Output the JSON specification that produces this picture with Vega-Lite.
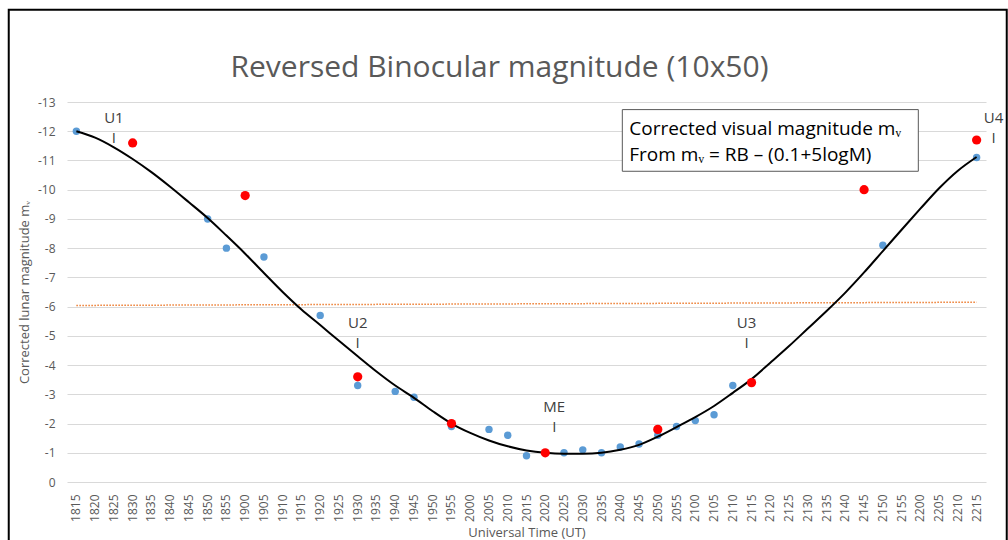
{
  "$schema": "https://vega.github.io/schema/vega-lite/v6.json",
  "autosize": "none",
  "width": 919,
  "height": 380,
  "padding": {"left": 67, "top": 102, "right": 22, "bottom": 58},
  "background": "white",
  "config": {
    "font": "Open Sans",
    "view": {"stroke": null},
    "axisX": {"labelAngle": -90, "labelFontSize": 12, "labelColor": "#595959", "labelPadding": 12, "ticks": false, "domain": false, "grid": false,
      "titleFontSize": 13, "titleFontWeight": "normal", "titleColor": "#595959", "titlePadding": 5},
    "axisY": {"labelFontSize": 12, "labelColor": "#595959", "labelPadding": 12, "ticks": false, "domain": false, "grid": true,
      "gridColor": "#D9D9D9", "gridWidth": 1, "labelOverlap": false,
      "titleFontSize": 13, "titleFontWeight": "normal", "titleColor": "#595959", "titlePadding": 6}
  },
  "title": {"text": "Reversed Binocular magnitude (10x50)", "fontSize": 30, "fontWeight": "normal", "color": "#595959", "font": "Open Sans", "anchor": "middle", "offset": -74, "dx": -27},
  "datasets": {
    "obs": [
      {"t": "1815", "v": -12.0, "s": "A"}, {"t": "1850", "v": -9.0, "s": "A"}, {"t": "1855", "v": -8.0, "s": "A"},
      {"t": "1905", "v": -7.7, "s": "A"}, {"t": "1920", "v": -5.7, "s": "A"}, {"t": "1930", "v": -3.3, "s": "A"},
      {"t": "1940", "v": -3.1, "s": "A"}, {"t": "1945", "v": -2.9, "s": "A"}, {"t": "1955", "v": -1.9, "s": "A"},
      {"t": "2005", "v": -1.8, "s": "A"}, {"t": "2010", "v": -1.6, "s": "A"}, {"t": "2015", "v": -0.9, "s": "A"},
      {"t": "2020", "v": -1.0, "s": "A"}, {"t": "2025", "v": -1.0, "s": "A"}, {"t": "2030", "v": -1.1, "s": "A"},
      {"t": "2035", "v": -1.0, "s": "A"}, {"t": "2040", "v": -1.2, "s": "A"}, {"t": "2045", "v": -1.3, "s": "A"},
      {"t": "2050", "v": -1.6, "s": "A"}, {"t": "2055", "v": -1.9, "s": "A"}, {"t": "2100", "v": -2.1, "s": "A"},
      {"t": "2105", "v": -2.3, "s": "A"}, {"t": "2110", "v": -3.3, "s": "A"}, {"t": "2150", "v": -8.1, "s": "A"},
      {"t": "2215", "v": -11.1, "s": "A"},
      {"t": "1830", "v": -11.6, "s": "B"}, {"t": "1900", "v": -9.8, "s": "B"}, {"t": "1930", "v": -3.6, "s": "B"},
      {"t": "1955", "v": -2.0, "s": "B"}, {"t": "2020", "v": -1.0, "s": "B"}, {"t": "2050", "v": -1.8, "s": "B"},
      {"t": "2115", "v": -3.4, "s": "B"}, {"t": "2145", "v": -10.0, "s": "B"}, {"t": "2215", "v": -11.7, "s": "B"}
    ],
    "fit": [
      {"t": "1815", "v": -12.0}, {"t": "1820", "v": -11.78}, {"t": "1825", "v": -11.45}, {"t": "1830", "v": -11.05},
      {"t": "1835", "v": -10.6}, {"t": "1840", "v": -10.1}, {"t": "1845", "v": -9.57}, {"t": "1850", "v": -9.03},
      {"t": "1855", "v": -8.43}, {"t": "1900", "v": -7.81}, {"t": "1905", "v": -7.15}, {"t": "1910", "v": -6.5},
      {"t": "1915", "v": -5.9}, {"t": "1920", "v": -5.37}, {"t": "1925", "v": -4.83}, {"t": "1930", "v": -4.3},
      {"t": "1935", "v": -3.78}, {"t": "1940", "v": -3.3}, {"t": "1945", "v": -2.88}, {"t": "1950", "v": -2.42},
      {"t": "1955", "v": -2.0}, {"t": "2000", "v": -1.68}, {"t": "2005", "v": -1.42}, {"t": "2010", "v": -1.22},
      {"t": "2015", "v": -1.08}, {"t": "2020", "v": -1.0}, {"t": "2025", "v": -0.97}, {"t": "2030", "v": -0.97},
      {"t": "2035", "v": -1.0}, {"t": "2040", "v": -1.1}, {"t": "2045", "v": -1.27}, {"t": "2050", "v": -1.55},
      {"t": "2055", "v": -1.88}, {"t": "2100", "v": -2.22}, {"t": "2105", "v": -2.6}, {"t": "2110", "v": -3.05},
      {"t": "2115", "v": -3.52}, {"t": "2120", "v": -4.08}, {"t": "2125", "v": -4.65}, {"t": "2130", "v": -5.25},
      {"t": "2135", "v": -5.85}, {"t": "2140", "v": -6.48}, {"t": "2145", "v": -7.17}, {"t": "2150", "v": -7.9},
      {"t": "2155", "v": -8.63}, {"t": "2200", "v": -9.35}, {"t": "2205", "v": -10.05}, {"t": "2210", "v": -10.65},
      {"t": "2215", "v": -11.12}
    ],
    "trend": [{"t": "1815", "v": -6.04}, {"t": "2215", "v": -6.15}],
    "notes": [
      {"t": "1825", "v": -11.78, "label": "U1", "g": "a"},
      {"t": "1930", "v": -4.75, "label": "U2", "g": "a"},
      {"t": "2020", "v": -1.89, "label": "ME", "g": "b"},
      {"t": "2115", "v": -4.75, "label": "U3", "g": "c"},
      {"t": "2215", "v": -11.77, "label": "U4", "g": "d"}
    ]
  },
  "layer": [
    {
      "encoding": {
        "x": {
          "field": "t", "type": "ordinal",
          "scale": {"type": "band", "paddingInner": 0, "paddingOuter": 0,
            "domain": ["1815","1820","1825","1830","1835","1840","1845","1850","1855","1900","1905","1910","1915","1920","1925","1930","1935","1940","1945","1950","1955","2000","2005","2010","2015","2020","2025","2030","2035","2040","2045","2050","2055","2100","2105","2110","2115","2120","2125","2130","2135","2140","2145","2150","2155","2200","2205","2210","2215"]},
          "axis": {"title": "Universal Time (UT)"}
        },
        "y": {
          "field": "v", "type": "quantitative",
          "scale": {"domain": [-13, 0], "reverse": true, "nice": false, "zero": false},
          "axis": {"values": [-13,-12,-11,-10,-9,-8,-7,-6,-5,-4,-3,-2,-1,0], "labelExpr": "'' + datum.value", "title": "Corrected lunar magnitude mᵥ"}
        }
      },
      "layer": [
        {
          "data": {"name": "trend"},
          "mark": {"type": "line", "color": "#ED7D31", "strokeWidth": 1.5, "strokeDash": [1.5, 1.5]}
        },
        {
          "data": {"name": "obs"},
          "transform": [{"filter": "datum.s == 'A'"}],
          "mark": {"type": "circle", "color": "#5B9BD5", "opacity": 1, "size": 55}
        },
        {
          "data": {"name": "fit"},
          "mark": {"type": "line", "color": "#000000", "strokeWidth": 2, "interpolate": "monotone"}
        },
        {
          "data": {"name": "obs"},
          "transform": [{"filter": "datum.s == 'B'"}],
          "mark": {"type": "circle", "color": "#FF0000", "opacity": 1, "size": 85}
        },
        {
          "data": {"name": "notes"},
          "transform": [{"filter": "datum.g == 'a'"}],
          "layer": [
            {"mark": {"type": "text", "fontSize": 15, "color": "#404040", "baseline": "middle", "dy": -20}, "encoding": {"text": {"field": "label"}}},
            {"mark": {"type": "text", "fontSize": 15, "color": "#404040", "baseline": "middle", "text": "I"}}
          ]
        },
        {
          "data": {"name": "notes"},
          "transform": [{"filter": "datum.g == 'b'"}],
          "layer": [
            {"mark": {"type": "text", "fontSize": 15, "color": "#404040", "baseline": "middle", "dy": -20, "dx": 9}, "encoding": {"text": {"field": "label"}}},
            {"mark": {"type": "text", "fontSize": 15, "color": "#404040", "baseline": "middle", "text": "I", "dx": 9}}
          ]
        },
        {
          "data": {"name": "notes"},
          "transform": [{"filter": "datum.g == 'c'"}],
          "layer": [
            {"mark": {"type": "text", "fontSize": 15, "color": "#404040", "baseline": "middle", "dy": -20, "dx": -5}, "encoding": {"text": {"field": "label"}}},
            {"mark": {"type": "text", "fontSize": 15, "color": "#404040", "baseline": "middle", "text": "I", "dx": -5}}
          ]
        },
        {
          "data": {"name": "notes"},
          "transform": [{"filter": "datum.g == 'd'"}],
          "layer": [
            {"mark": {"type": "text", "fontSize": 15, "color": "#404040", "baseline": "middle", "dy": -20, "dx": 17}, "encoding": {"text": {"field": "label"}}},
            {"mark": {"type": "text", "fontSize": 15, "color": "#404040", "baseline": "middle", "text": "I", "dx": 17}}
          ]
        }
      ]
    },
    {
      "data": {"values": [{}]},
      "mark": {"type": "rect", "fill": "#FFFFFF", "stroke": "#595959", "strokeWidth": 1, "width": 296},
      "encoding": {
        "x": {"datum": "2120", "type": "ordinal", "axis": {"title": "Universal Time (UT)"}},
        "y": {"datum": -12.74, "type": "quantitative", "scale": {"domain": [-13, 0], "reverse": true, "nice": false, "zero": false},
          "axis": {"values": [-13,-12,-11,-10,-9,-8,-7,-6,-5,-4,-3,-2,-1,0], "labelExpr": "'' + datum.value", "title": "Corrected lunar magnitude mᵥ"}},
        "y2": {"datum": -10.63}
      }
    },
    {
      "data": {"values": [{}]},
      "mark": {"type": "text", "align": "left", "baseline": "middle", "fontSize": 19, "color": "#000000", "dx": 9, "text": "Corrected visual magnitude mᵥ"},
      "encoding": {
        "x": {"datum": "2040", "type": "ordinal", "axis": {"title": "Universal Time (UT)"}},
        "y": {"datum": -12.09, "type": "quantitative", "scale": {"domain": [-13, 0], "reverse": true, "nice": false, "zero": false},
          "axis": {"values": [-13,-12,-11,-10,-9,-8,-7,-6,-5,-4,-3,-2,-1,0], "labelExpr": "'' + datum.value", "title": "Corrected lunar magnitude mᵥ"}}
      }
    },
    {
      "data": {"values": [{}]},
      "mark": {"type": "text", "align": "left", "baseline": "middle", "fontSize": 19, "color": "#000000", "dx": 9, "text": "From mᵥ = RB – (0.1+5logM)"},
      "encoding": {
        "x": {"datum": "2040", "type": "ordinal", "axis": {"title": "Universal Time (UT)"}},
        "y": {"datum": -11.2, "type": "quantitative", "scale": {"domain": [-13, 0], "reverse": true, "nice": false, "zero": false},
          "axis": {"values": [-13,-12,-11,-10,-9,-8,-7,-6,-5,-4,-3,-2,-1,0], "labelExpr": "'' + datum.value", "title": "Corrected lunar magnitude mᵥ"}}
      }
    },
    {
      "data": {"values": [{}]},
      "mark": {"type": "rect", "fill": null, "stroke": "#000000", "strokeWidth": 2, "width": 998},
      "encoding": {
        "x": {"datum": "2010", "type": "ordinal", "axis": {"title": "Universal Time (UT)"}},
        "y": {"datum": -16.16, "type": "quantitative", "scale": {"domain": [-13, 0], "reverse": true, "nice": false, "zero": false},
          "axis": {"values": [-13,-12,-11,-10,-9,-8,-7,-6,-5,-4,-3,-2,-1,0], "labelExpr": "'' + datum.value", "title": "Corrected lunar magnitude mᵥ"}},
        "y2": {"datum": 3}
      }
    }
  ]
}
